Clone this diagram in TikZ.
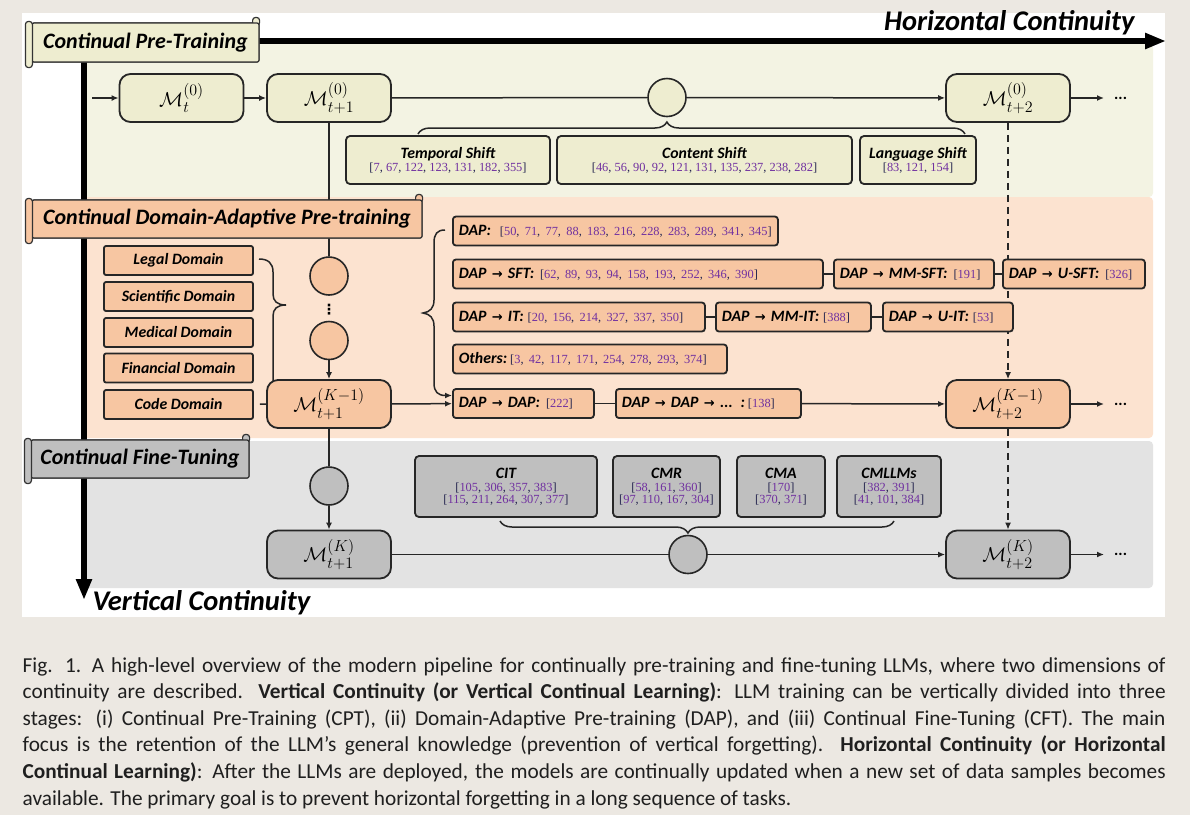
\RequirePackage{fix-cm}
\documentclass[tikz,border=0pt]{standalone}
\usepackage{fontspec}
\setmainfont{Carlito}
\newfontfamily\reffont{Liberation Serif}
\newfontfamily\symfont{DejaVu Sans}
\usepackage{amsmath}
\usetikzlibrary{arrows.meta,decorations.pathreplacing}
\DeclareMathSizes{20}{20}{16}{12}

\definecolor{pagebg}{HTML}{ECE8E2}
\definecolor{cptband}{HTML}{F3F3E3}
\definecolor{cptfill}{HTML}{EEEDD0}
\definecolor{dapband}{HTML}{FCE3D0}
\definecolor{dapfill}{HTML}{F7C6A2}
\definecolor{cftband}{HTML}{E3E3E3}
\definecolor{cftfill}{HTML}{BFBFBF}
\definecolor{citec}{HTML}{7030A0}
\definecolor{bracketc}{HTML}{262650}

\newcommand\labsize{\fontsize{15.8}{18}\selectfont\bfseries\itshape}
\newcommand\toarr{{\symfont\bfseries\upshape\fontsize{13}{15}\selectfont →}}
\makeatletter
\newcommand\reflist[1]{{\normalfont\reffont\fontsize{12.4}{15}\selectfont\color{bracketc}%
  \def\rsep{\def\rsep{, }}[\@for\rn:=#1\do{\rsep\textcolor{citec}{\rn}}]}}
\makeatother
\newcommand\capline[1]{\makebox[1143pt][s]{#1}}

\begin{document}
\begin{tikzpicture}[x=1pt,y=-1pt,>={Latex[length=7pt,width=6pt]}]
  \tikzstyle{mbox}=[draw=black!85,line width=1.8pt,rounded corners=11pt,minimum width=124pt,minimum height=48pt,inner sep=0pt,font=\fontsize{20}{24}\selectfont]
  \tikzstyle{knot}=[circle,draw=black!85,line width=1.6pt,minimum size=38pt,inner sep=0pt]
  \tikzstyle{banner}=[draw=black!80,line width=1.2pt,rounded corners=2pt,inner sep=0pt,font=\fontsize{22}{26}\selectfont\bfseries\itshape]
  \tikzstyle{roll}=[draw=black!80,line width=1.2pt,rounded corners=3pt]
  \tikzstyle{shiftbox}=[draw=black!85,line width=1.8pt,rounded corners=4pt,fill=cptfill,align=center,inner sep=0pt,minimum height=48pt]
  \tikzstyle{dombox}=[draw=black!85,line width=1.8pt,rounded corners=2pt,fill=dapfill,minimum width=149pt,minimum height=29pt,inner sep=0pt,font=\labsize]
  \tikzstyle{dapbox}=[draw=black!85,line width=1.8pt,rounded corners=3pt,fill=dapfill,minimum height=29pt,inner xsep=6pt,inner ysep=0pt,anchor=west,align=left,font=\labsize]
  \tikzstyle{cftbox}=[draw=black!85,line width=1.8pt,rounded corners=4pt,fill=cftfill,align=center,inner sep=0pt,minimum height=61pt]
  \tikzstyle{link}=[line width=1.5pt,draw=black!85]
  \tikzstyle{vdash}=[line width=2pt,draw=black!85,dash pattern=on 7pt off 5pt]
  \tikzstyle{more}=[anchor=west,inner sep=1pt,font=\fontsize{16}{18}\selectfont\bfseries]
  \tikzstyle{axis}=[line width=5.5pt,-{Triangle[length=21pt,width=15pt]}]

  % page, card and the three stages
  \useasboundingbox (0,0) rectangle (1190,815);
  \fill[pagebg] (0,0) rectangle (1190,815);
  \fill[white] (22,13) rectangle (1165,617);
  \fill[cptband,rounded corners=4pt] (84,44) rectangle (1153,197);
  \fill[dapband,rounded corners=4pt] (84,197) rectangle (1153,438);
  \fill[cftband,rounded corners=4pt] (84,441) rectangle (1153,588);

  % the two axes
  \draw[axis] (84,38.3) -- (84,600);
  \draw[axis] (81.3,41) -- (1166,41);
  \node[font=\fontsize{28.5}{32}\selectfont\bfseries\itshape,anchor=east] (hlab) at (1138,23) {Horizontal Continuity};
  \node[font=\fontsize{28.5}{32}\selectfont\bfseries\itshape,anchor=west] (vlab) at (89,603) {Vertical Continuity};

  % models and merge points
  \coordinate (in0) at (92,98);
  \node[mbox,fill=cptfill] (m0t) at (181.5,98) {$\mathcal{M}_{t}^{(0)}$};
  \node[mbox,fill=cptfill] (m0t1) at (329,98) {$\mathcal{M}_{t+1}^{(0)}$};
  \node[knot,fill=cptfill] (k0) at (667,97.5) {};
  \node[mbox,fill=cptfill] (m0t2) at (1008,98) {$\mathcal{M}_{t+2}^{(0)}$};
  \node[more] (more0) at (1113,98) {...};

  \node[knot,fill=dapfill] (d1) at (329,276) {};
  \node[font=\symfont\bfseries\fontsize{14}{16}\selectfont,inner sep=0pt] (vd) at (329,310) {⋮};
  \node[knot,fill=dapfill] (d2) at (329,340.5) {};
  \node[mbox,fill=dapfill] (mk1t1) at (329,404) {$\mathcal{M}_{t+1}^{(K-1)}$};
  \node[mbox,fill=dapfill] (mk1t2) at (1008,404) {$\mathcal{M}_{t+2}^{(K-1)}$};
  \node[more] (more1) at (1113,404) {...};

  \node[knot,fill=cftfill] (e1) at (329,486) {};
  \node[mbox,fill=cftfill] (mkt1) at (329,554.5) {$\mathcal{M}_{t+1}^{(K)}$};
  \node[knot,fill=cftfill] (e2) at (688,554.5) {};
  \node[mbox,fill=cftfill] (mkt2) at (1008,554.5) {$\mathcal{M}_{t+2}^{(K)}$};
  \node[more] (more2) at (1113,554.5) {...};

  % horizontal flow
  \draw[link,->] (in0) -- (m0t);
  \draw[link,->] (m0t) -- (m0t1);
  \draw[link] (m0t1) -- (k0);
  \draw[link,->] (k0) -- (m0t2);
  \draw[link,->,shorten >=9pt] (m0t2) -- (more0);
  \draw[link,->,shorten >=9pt] (mk1t2) -- (more1);
  \draw[link] (mkt1) -- (e2);
  \draw[link,->] (e2) -- (mkt2);
  \draw[link,->,shorten >=9pt] (mkt2) -- (more2);

  % vertical flow
  \draw[link] (m0t1) -- (d1);
  \draw[link,->] (d2) -- (mk1t1);
  \draw[link] (mk1t1) -- (e1);
  \draw[link,->] (e1) -- (mkt1);
  \draw[vdash,->] (m0t2) -- (mk1t2);
  \draw[vdash,->] (mk1t2) -- (mkt2);

  % CPT shifts
  \draw[link,decorate,decoration={brace,amplitude=12pt,aspect=0.455}] (418,134) -- (965,134);
  \node[shiftbox,minimum width=204pt] (tshift) at (448,160) {\labsize Temporal Shift\\[1pt]\reflist{7,67,122,123,131,182,355}};
  \node[shiftbox,minimum width=295pt] (cshift) at (704.5,160) {\labsize Content Shift\\[1pt]\reflist{46,56,90,92,121,131,135,237,238,282}};
  \node[shiftbox,minimum width=116pt] (lshift) at (918,160) {\labsize Language Shift\\[1pt]\reflist{83,121,154}};

  % domains
  \node[dombox] (legal) at (178.5,260.5) {Legal Domain};
  \node[dombox] (sci) at (178.5,296.5) {Scientific Domain};
  \node[dombox] (med) at (178.5,332.5) {Medical Domain};
  \node[dombox] (fin) at (178.5,368) {Financial Domain};
  \node[dombox] (code) at (178.5,404.5) {Code Domain};
  \draw[link,shorten <=6pt] (code) -- (mk1t1);
  \draw[link] (259,259) .. controls (268,259) and (273,263) .. (273,272) -- (273,294)
    .. controls (273,301) and (277,305) .. (286,305) .. controls (277,305) and (273,309) .. (273,316) -- (273,381);

  % DAP variants
  \node[dapbox,text width=313pt] (dap) at (452,231) {DAP:\hspace{9pt}\reflist{50,71,77,88,183,216,228,283,289,341,345}};
  \node[dapbox,text width=358pt] (dapsft) at (452,274) {DAP \toarr{} SFT:\hspace{6pt}\reflist{62,89,93,94,158,193,252,346,390}};
  \node[dapbox,text width=148pt] (dapmmsft) at (833,274) {DAP \toarr{} MM-SFT:\hspace{6pt}\reflist{191}};
  \node[dapbox,text width=130pt] (dapusft) at (1002,274) {DAP \toarr{} U-SFT:\hspace{6pt}\reflist{326}};
  \node[dapbox,text width=240pt] (dapit) at (452,317) {DAP \toarr{} IT:\hspace{4pt}\reflist{20,156,214,327,337,350}};
  \node[dapbox,text width=143pt] (dapmmit) at (715,317) {DAP \toarr{} MM-IT:\hspace{4pt}\reflist{388}};
  \node[dapbox,text width=118pt] (dapuit) at (882,317) {DAP \toarr{} U-IT:\hspace{4pt}\reflist{53}};
  \node[dapbox,text width=262pt] (others) at (452,359) {Others:\hspace{3pt}\reflist{3,42,117,171,254,278,293,374}};
  \node[dapbox,text width=129pt] (dapdap) at (452,403.5) {DAP \toarr{} DAP:\hspace{6pt}\reflist{222}};
  \node[dapbox,text width=173pt] (dapdapx) at (615,403.5) {DAP \toarr{} DAP \toarr{} ... :\hspace{3pt}\reflist{138}};
  \draw[link] (dapsft) -- (dapmmsft);
  \draw[link] (dapmmsft) -- (dapusft);
  \draw[link] (dapit) -- (dapmmit);
  \draw[link] (dapmmit) -- (dapuit);
  \draw[link,->] (mk1t1) -- (dapdap);
  \draw[link] (dapdap) -- (dapdapx);
  \draw[link,->] (dapdapx) -- (mk1t2);
  \draw[link,->] (445,230) .. controls (437,230) and (434,234) .. (434,243) -- (434,300)
    .. controls (434,308) and (430,312) .. (423,313) .. controls (430,314) and (434,318) .. (434,326)
    -- (434,383) .. controls (434,392) and (438,395.5) .. ([yshift=8pt]dapdap.west);

  % CFT settings
  \draw[link,decorate,decoration={brace,mirror,amplitude=12pt,aspect=0.477}] (500,521) -- (894,521);
  \node[cftbox,minimum width=182pt] (cit) at (506,486.5) {\labsize CIT\\[1pt]\reflist{105,306,357,383}\\\reflist{115,211,264,307,377}};
  \node[cftbox,minimum width=107pt] (cmr) at (666.5,486.5) {\labsize CMR\\[1pt]\reflist{58,161,360}\\\reflist{97,110,167,304}};
  \node[cftbox,minimum width=88pt] (cma) at (781,486.5) {\labsize CMA\\[1pt]\reflist{170}\\\reflist{370,371}};
  \node[cftbox,minimum width=104pt] (cmllm) at (889,486.5) {\labsize CMLLMs\\[1pt]\reflist{382,391}\\\reflist{41,101,384}};

  % stage banners
  \node[banner,fill=cptfill,minimum width=227pt,minimum height=39pt] (bancpt) at (145.5,42.5) {Continual Pre-Training};
  \draw[roll,fill=cptfill] ([xshift=-7pt,yshift=-3pt]bancpt.north east) rectangle ([yshift=5pt]bancpt.north east);
  \node[banner,fill=cptfill,minimum width=227pt,minimum height=39pt] at (bancpt) {Continual Pre-Training};
  \draw[roll,fill=cptfill] ([xshift=-6pt,yshift=1pt]bancpt.north west) rectangle ([xshift=1pt,yshift=-5pt]bancpt.south west);

  \node[banner,fill=dapfill,minimum width=390pt,minimum height=38pt] (bandap) at (227,219) {Continual Domain-Adaptive Pre-training};
  \draw[roll,fill=dapfill] ([xshift=-7pt,yshift=-3pt]bandap.north east) rectangle ([yshift=5pt]bandap.north east);
  \node[banner,fill=dapfill,minimum width=390pt,minimum height=38pt] at (bandap) {Continual Domain-Adaptive Pre-training};
  \draw[roll,fill=dapfill] ([xshift=-6pt,yshift=1pt]bandap.north west) rectangle ([xshift=1pt,yshift=-5pt]bandap.south west);

  \node[banner,fill=cftfill,minimum width=218pt,minimum height=38pt] (bancft) at (140,459) {Continual Fine-Tuning};
  \draw[roll,fill=cftfill] ([xshift=-7pt,yshift=-3pt]bancft.north east) rectangle ([yshift=5pt]bancft.north east);
  \node[banner,fill=cftfill,minimum width=218pt,minimum height=38pt] at (bancft) {Continual Fine-Tuning};
  \draw[roll,fill=cftfill] ([xshift=-6pt,yshift=1pt]bancft.north west) rectangle ([xshift=1pt,yshift=-5pt]bancft.south west);

  % caption
  \node[anchor=north west,inner sep=0pt,align=left,font=\fontsize{21.3}{26.6}\selectfont,text=black!88] (caption) at (22.5,657) {%
    \capline{Fig. 1.\enspace A high-level overview of the modern pipeline for continually pre-training and fine-tuning LLMs, where two dimensions of}\\
    \capline{continuity are described. \textbf{Vertical Continuity (or Vertical Continual Learning)}: LLM training can be vertically divided into three}\\
    \capline{stages: (i) Continual Pre-Training (CPT), (ii) Domain-Adaptive Pre-training (DAP), and (iii) Continual Fine-Tuning (CFT). The main}\\
    \capline{focus is the retention of the LLM’s general knowledge (prevention of vertical forgetting). \textbf{Horizontal Continuity (or Horizontal}}\\
    \capline{\textbf{Continual Learning)}: After the LLMs are deployed, the models are continually updated when a new set of data samples becomes}\\
    available. The primary goal is to prevent horizontal forgetting in a long sequence of tasks.};
\end{tikzpicture}
\end{document}
